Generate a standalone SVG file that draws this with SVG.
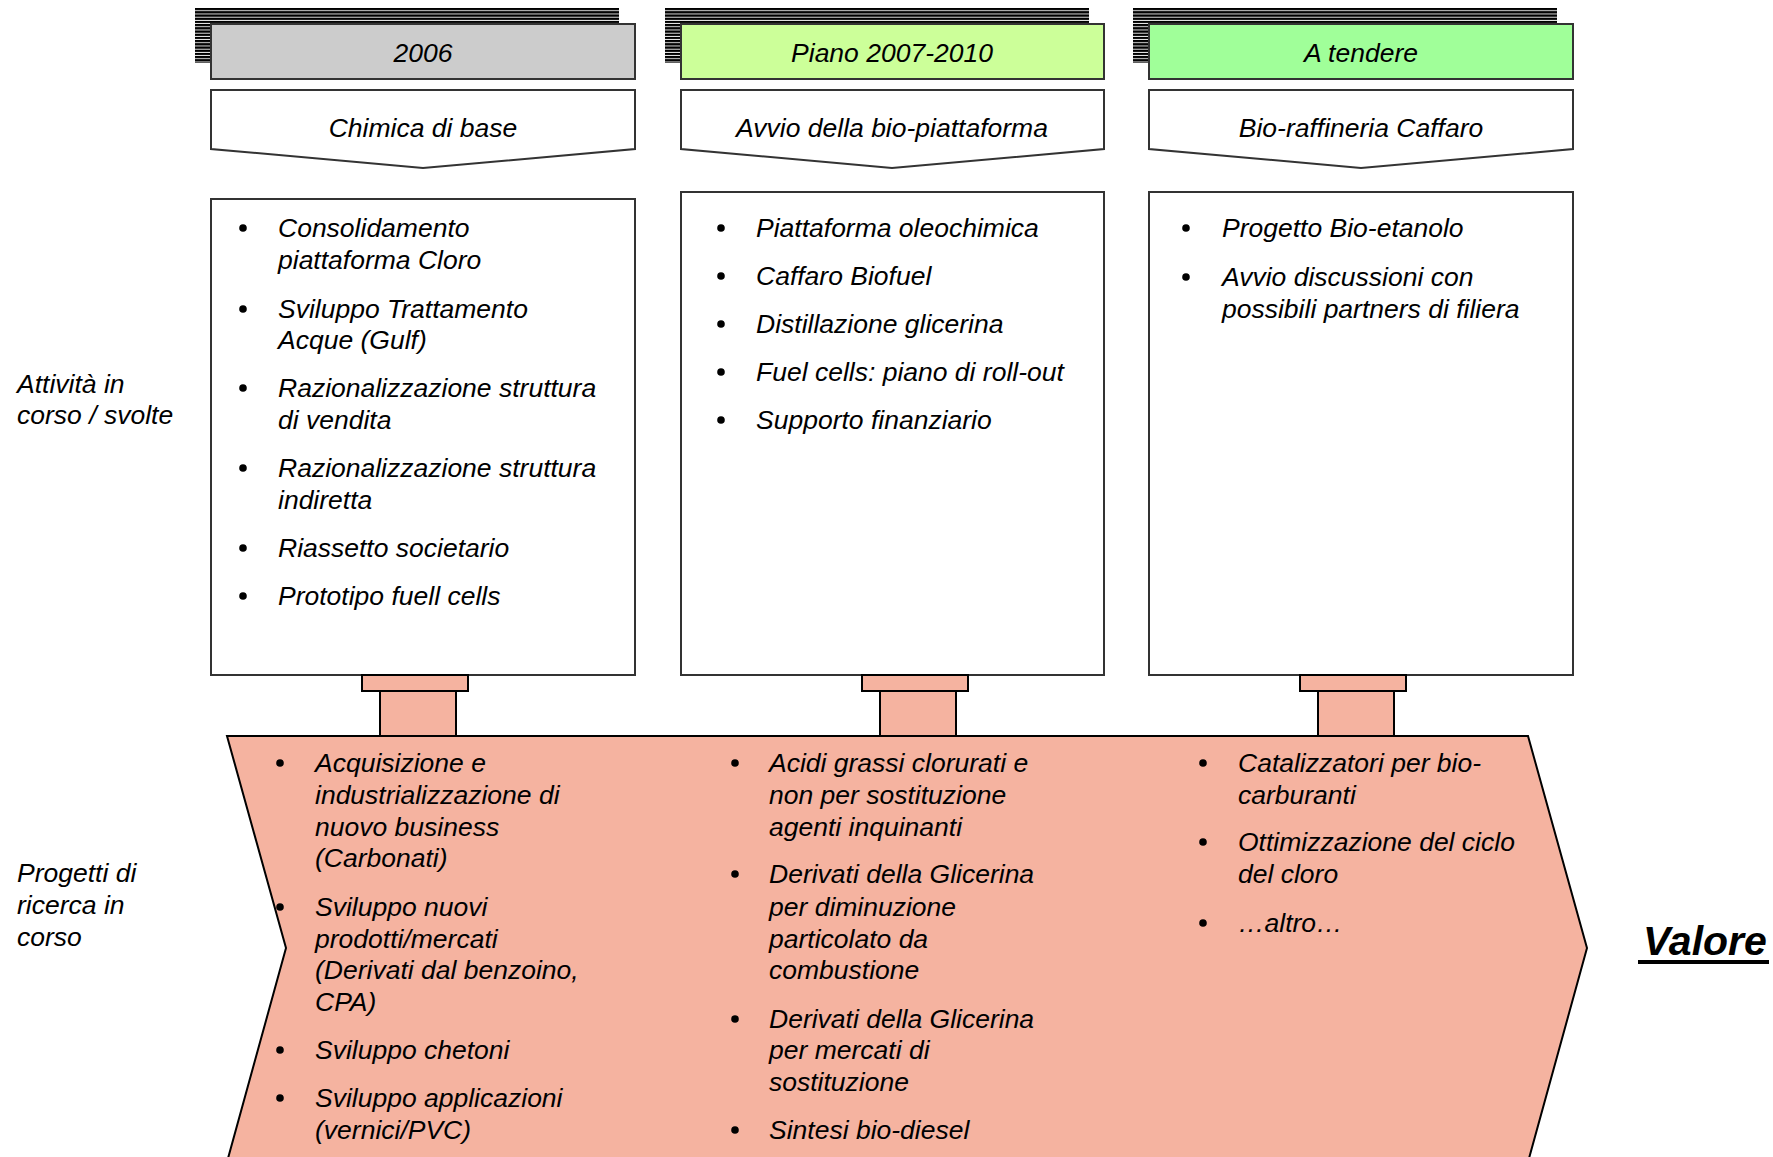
<svg xmlns="http://www.w3.org/2000/svg" width="1773" height="1157" viewBox="0 0 1773 1157">
<defs>
<pattern id="stripes" patternUnits="userSpaceOnUse" x="0" y="8" width="8" height="3.2"><rect x="0" y="0" width="8" height="2.3" fill="#000"/></pattern>
<circle id="b" r="3.8" fill="#000"/>
</defs>
<style>
text{font-family:"Liberation Sans",Arial,sans-serif;font-style:italic;font-size:26.5px;fill:#000}
.c{text-anchor:middle}
.hdr{stroke:#333;stroke-width:2}
.box{fill:#fff;stroke:#333;stroke-width:2}
.pink{fill:#F5B3A0;stroke:#000;stroke-width:2}
.val{font-weight:bold;font-size:41px}
</style>
<rect width="1773" height="1157" fill="#fff"/>

<g id="label-attivita">
<text x="17" y="393">Attività in</text>
<text x="17" y="424">corso / svolte</text>
</g>
<g id="label-progetti">
<text x="17" y="882">Progetti di</text>
<text x="17" y="914">ricerca in</text>
<text x="17" y="946">corso</text>
</g>

<g id="col1-header">
<rect x="195" y="8" width="424" height="55" fill="url(#stripes)"/>
<rect class="hdr" x="211" y="24" width="424" height="55" fill="#CCCCCC"/>
<text class="c" x="423" y="62">2006</text>
</g>
<g id="col2-header">
<rect x="665" y="8" width="424" height="55" fill="url(#stripes)"/>
<rect class="hdr" x="681" y="24" width="423" height="55" fill="#CCFF99"/>
<text class="c" x="892" y="62">Piano 2007-2010</text>
</g>
<g id="col3-header">
<rect x="1133" y="8" width="424" height="55" fill="url(#stripes)"/>
<rect class="hdr" x="1149" y="24" width="424" height="55" fill="#A0FF99"/>
<text class="c" x="1361" y="62">A tendere</text>
</g>

<g id="col1-title">
<polygon class="box" points="211,90 635,90 635,149 423,168 211,149"/>
<text class="c" x="423" y="137">Chimica di base</text>
</g>
<g id="col2-title">
<polygon class="box" points="681,90 1104,90 1104,149 892,168 681,149"/>
<text class="c" x="892" y="137">Avvio della bio-piattaforma</text>
</g>
<g id="col3-title">
<polygon class="box" points="1149,90 1573,90 1573,149 1361,168 1149,149"/>
<text class="c" x="1361" y="137">Bio-raffineria Caffaro</text>
</g>

<g id="col1-activities">
<rect class="box" x="211" y="199" width="424" height="476"/>
<use href="#b" x="243" y="228"/><use href="#b" x="243" y="309"/><use href="#b" x="243" y="388"/><use href="#b" x="243" y="468"/><use href="#b" x="243" y="548"/><use href="#b" x="243" y="596"/>
<text x="278" y="237">Consolidamento</text>
<text x="278" y="269">piattaforma Cloro</text>
<text x="278" y="318">Sviluppo Trattamento</text>
<text x="278" y="349">Acque (Gulf)</text>
<text x="278" y="397">Razionalizzazione struttura</text>
<text x="278" y="429">di vendita</text>
<text x="278" y="477">Razionalizzazione struttura</text>
<text x="278" y="509">indiretta</text>
<text x="278" y="557">Riassetto societario</text>
<text x="278" y="605">Prototipo fuell cells</text>
</g>

<g id="col2-activities">
<rect class="box" x="681" y="192" width="423" height="483"/>
<use href="#b" x="721" y="228"/><use href="#b" x="721" y="276"/><use href="#b" x="721" y="324"/><use href="#b" x="721" y="372"/><use href="#b" x="721" y="420"/>
<text x="756" y="237">Piattaforma oleochimica</text>
<text x="756" y="285">Caffaro Biofuel</text>
<text x="756" y="333">Distillazione glicerina</text>
<text x="756" y="381">Fuel cells: piano di roll-out</text>
<text x="756" y="429">Supporto finanziario</text>
</g>

<g id="col3-activities">
<rect class="box" x="1149" y="192" width="424" height="483"/>
<use href="#b" x="1186" y="228"/><use href="#b" x="1186" y="277"/>
<text x="1222" y="237">Progetto Bio-etanolo</text>
<text x="1222" y="286">Avvio discussioni con</text>
<text x="1222" y="318">possibili partners di filiera</text>
</g>

<g id="connectors">
<rect class="pink" x="362" y="675" width="106" height="16"/>
<rect class="pink" x="380" y="691" width="76" height="45"/>
<rect class="pink" x="862" y="675" width="106" height="16"/>
<rect class="pink" x="880" y="691" width="76" height="45"/>
<rect class="pink" x="1300" y="675" width="106" height="16"/>
<rect class="pink" x="1318" y="691" width="76" height="45"/>
</g>

<g id="research-chevron">
<polygon class="pink" points="227,736 1528,736 1587,948 1528,1162 227,1162 286,948"/>
<use href="#b" x="280" y="763"/><use href="#b" x="280" y="907"/><use href="#b" x="280" y="1050"/><use href="#b" x="280" y="1098"/>
<text x="315" y="772">Acquisizione e</text>
<text x="315" y="804">industrializzazione di</text>
<text x="315" y="836">nuovo business</text>
<text x="315" y="867">(Carbonati)</text>
<text x="315" y="916">Sviluppo nuovi</text>
<text x="315" y="948">prodotti/mercati</text>
<text x="315" y="979">(Derivati dal benzoino,</text>
<text x="315" y="1011">CPA)</text>
<text x="315" y="1059">Sviluppo chetoni</text>
<text x="315" y="1107">Sviluppo applicazioni</text>
<text x="315" y="1139">(vernici/PVC)</text>

<use href="#b" x="735" y="763"/><use href="#b" x="735" y="874"/><use href="#b" x="735" y="1019"/><use href="#b" x="735" y="1130"/>
<text x="769" y="772">Acidi grassi clorurati e</text>
<text x="769" y="804">non per sostituzione</text>
<text x="769" y="836">agenti inquinanti</text>
<text x="769" y="883">Derivati della Glicerina</text>
<text x="769" y="916">per diminuzione</text>
<text x="769" y="948">particolato da</text>
<text x="769" y="979">combustione</text>
<text x="769" y="1028">Derivati della Glicerina</text>
<text x="769" y="1059">per mercati di</text>
<text x="769" y="1091">sostituzione</text>
<text x="769" y="1139">Sintesi bio-diesel</text>

<use href="#b" x="1203" y="763"/><use href="#b" x="1203" y="842"/><use href="#b" x="1203" y="923"/>
<text x="1238" y="772">Catalizzatori per bio-</text>
<text x="1238" y="804">carburanti</text>
<text x="1238" y="851">Ottimizzazione del ciclo</text>
<text x="1238" y="883">del cloro</text>
<text x="1238" y="932">…altro…</text>
</g>

<g id="valore">
<text class="val" x="1643" y="955">Valore</text>
<rect x="1638" y="960" width="131" height="4" fill="#000"/>
</g>
</svg>
